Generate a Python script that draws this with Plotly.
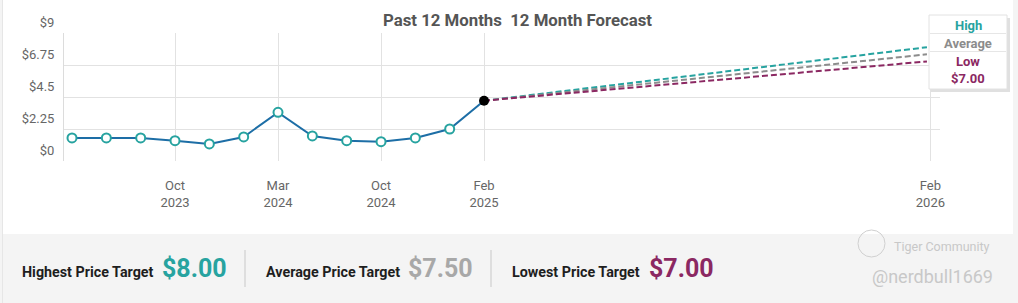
import plotly.graph_objects as go

# ---- data ----
hist_x = list(range(13))
hist_prices = [1.62, 1.62, 1.62, 1.43, 1.20, 1.69, 3.42, 1.76, 1.43, 1.36, 1.62, 2.25, 4.24]
forecast_x_end = 25
target_high = 8.00
target_avg = 7.50
target_low = 7.00
tick_positions = [3, 6, 9, 12, 25]
tick_labels = ["Oct<br>2023", "Mar<br>2024", "Oct<br>2024", "Feb<br>2025", "Feb<br>2026"]
y_ticks = [0, 2.25, 4.5, 6.75, 9]
y_tick_labels = ["$0", "$2.25", "$4.5", "$6.75", "$9"]

TEAL = "#27a3a0"
GREY = "#8c8c8c"
PURPLE = "#8b2862"
LINE = "#1d6ea6"

W, H = 1018, 303
L, R, T, B = 64, 940, 33, 161

def px(x):
    return (x - L) / (R - L)

def py(y):
    return (B - y) / (B - T)

fig = go.Figure()

last_x, last_y = hist_x[-1], hist_prices[-1]
for val, col in [(target_high, TEAL), (target_avg, GREY), (target_low, PURPLE)]:
    fig.add_trace(go.Scatter(
        x=[last_x, forecast_x_end - 0.1], y=[last_y, val], mode="lines",
        line=dict(color=col, width=2, dash="6px,3px"), hoverinfo="skip", showlegend=False))

fig.add_trace(go.Scatter(
    x=hist_x, y=hist_prices, mode="lines",
    line=dict(color=LINE, width=2), showlegend=False, hoverinfo="skip"))
fig.add_trace(go.Scatter(
    x=hist_x[:-1], y=hist_prices[:-1], mode="markers",
    marker=dict(color="white", size=9, line=dict(color=TEAL, width=2)),
    showlegend=False, hoverinfo="skip"))
fig.add_trace(go.Scatter(
    x=[last_x], y=[last_y], mode="markers",
    marker=dict(color="black", size=10), showlegend=False, hoverinfo="skip"))

shapes = []
shapes.append(dict(type="rect", xref="paper", yref="paper", x0=px(3), x1=px(1013), y0=py(0), y1=py(234),
                   fillcolor="white", line=dict(width=0), layer="below"))
shapes.append(dict(type="rect", xref="paper", yref="paper", x0=px(3), x1=px(1013), y0=py(234), y1=py(303),
                   fillcolor="#f4f4f4", line=dict(width=0), layer="below"))
shapes.append(dict(type="line", xref="paper", yref="paper", x0=px(2.5), x1=px(2.5), y0=py(0), y1=py(303),
                   line=dict(color="#e6e6e6", width=1)))
for xd in (245, 491):
    shapes.append(dict(type="line", xref="paper", yref="paper", x0=px(xd), x1=px(xd), y0=py(250), y1=py(287),
                       line=dict(color="#c8c8c8", width=1)))
shapes.append(dict(type="rect", xref="paper", yref="paper", x0=px(931), x1=px(1010), y0=py(18), y1=py(92),
                   fillcolor="rgba(0,0,0,0.12)", line=dict(width=0)))
shapes.append(dict(type="rect", xref="paper", yref="paper", x0=px(929), x1=px(1007), y0=py(15), y1=py(89),
                   fillcolor="white", line=dict(color="#e2e2e2", width=1)))
for ys in (33.5, 51.5):
    shapes.append(dict(type="line", xref="paper", yref="paper", x0=px(930), x1=px(1006), y0=py(ys), y1=py(ys),
                       line=dict(color="#e6e6e6", width=1)))
shapes.append(dict(type="circle", xref="paper", yref="paper", x0=px(858), x1=px(885), y0=py(230), y1=py(257),
                   line=dict(color="#d0d0d0", width=1)))

anns = []
def ann(text, x, y, size, color, xanchor="center", weight="normal"):
    anns.append(dict(text=text, x=px(x), y=py(y), xref="paper", yref="paper", showarrow=False,
                     xanchor=xanchor, yanchor="middle",
                     font=dict(size=size, color=color, family="Roboto", weight=weight)))

ann("Past 12 Months&nbsp; 12 Month Forecast", 517, 20, 16.8, "#555555", weight="bold")
ann("High", 968, 25, 13, TEAL, weight="bold")
ann("Average", 968, 43, 13, GREY, weight="bold")
ann("Low", 968, 61, 13, PURPLE, weight="bold")
ann("$7.00", 968, 78, 13, PURPLE, weight="bold")

ann("Highest Price Target", 20, 272, 14.3, "#1e1e1e", xanchor="left", weight="bold")
ann("$%.2f" % target_high, 160, 268, 25, TEAL, xanchor="left", weight="bold")
ann("Average Price Target", 264, 272, 14.3, "#1e1e1e", xanchor="left", weight="bold")
ann("$%.2f" % target_avg, 406, 268, 25, "#a8a8a8", xanchor="left", weight="bold")
ann("Lowest Price Target", 510, 272, 14.3, "#1e1e1e", xanchor="left", weight="bold")
ann("$%.2f" % target_low, 647, 268, 25, PURPLE, xanchor="left", weight="bold")

ann("Tiger Community", 892, 246, 12.5, "#c8c8c8", xanchor="left")
ann("@nerdbull1669", 870, 276, 18, "#c8c8c8", xanchor="left")

fig.update_layout(
    width=W, height=H,
    margin=dict(l=L, r=W - R, t=T, b=H - B, pad=0),
    paper_bgcolor="#f4f4f4", plot_bgcolor="rgba(0,0,0,0)",
    shapes=shapes, annotations=anns,
    xaxis=dict(range=[-0.233, 25.28], tickmode="array", tickvals=tick_positions, ticktext=tick_labels,
               showgrid=True, gridcolor="#e2e2e2", gridwidth=1, zeroline=False,
               showline=False, ticks="", ticklabelstandoff=15,
               tickfont=dict(family="Roboto", size=13, color="#666666")),
    yaxis=dict(range=[0, 9], tickmode="array", tickvals=y_ticks, ticktext=y_tick_labels,
               showgrid=True, gridcolor="#e2e2e2", gridwidth=1, zeroline=False,
               showline=True, linecolor="#dcdcdc", linewidth=1, ticks="",
               ticklabelshift=-11, ticklabelstandoff=6,
               tickfont=dict(family="Roboto", size=13, color="#666666")),
    font=dict(family="Roboto"),
)

fig.write_html("out.html")
